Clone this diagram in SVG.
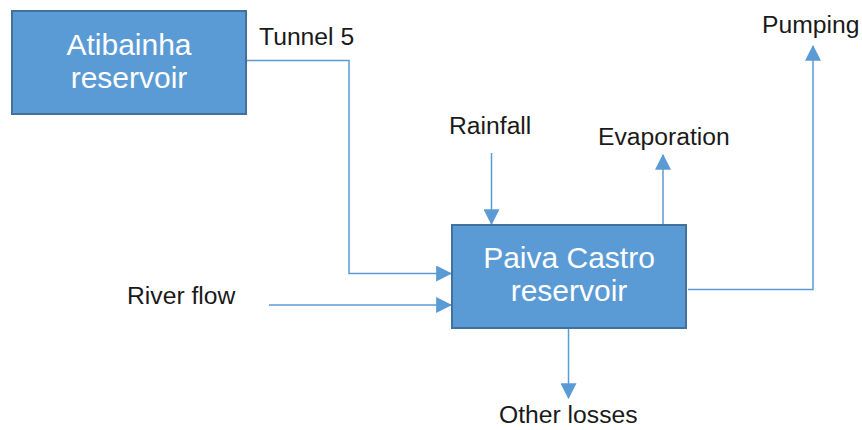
<svg xmlns="http://www.w3.org/2000/svg" width="862" height="430" viewBox="0 0 862 430">
  <style>
    .box { fill: #5B9BD5; stroke: #41719C; stroke-width: 2; }
    .boxtext { font-family: "Liberation Sans", Arial, sans-serif; font-size: 30px; fill: #ffffff; text-anchor: middle; }
    .label { font-family: "Liberation Sans", Arial, sans-serif; font-size: 24.7px; fill: #1a1a1a; }
    .flow { fill: none; stroke: #5B9BD5; stroke-width: 1.5; }
  </style>
  <defs>
    <marker id="arrow" markerUnits="userSpaceOnUse" markerWidth="16" markerHeight="16" viewBox="0 0 14 14" refX="13" refY="7" orient="auto">
      <path d="M0,0 L14,7 L0,14 Z" fill="#5B9BD5"/>
    </marker>
  </defs>
  <rect width="862" height="430" fill="#ffffff"/>

  <!-- flows -->
  <g id="connectors">
    <polyline class="flow" points="246,60.5 349,60.5 349,273.5 451,273.5" marker-end="url(#arrow)"/>
    <line class="flow" x1="269" y1="305" x2="451" y2="305" marker-end="url(#arrow)"/>
    <line class="flow" x1="491.5" y1="153" x2="491.5" y2="224" marker-end="url(#arrow)"/>
    <line class="flow" x1="663" y1="225" x2="663" y2="155" marker-end="url(#arrow)"/>
    <polyline class="flow" points="688,289.5 813,289.5 813,46" marker-end="url(#arrow)"/>
    <line class="flow" x1="568.5" y1="328" x2="568.5" y2="398" marker-end="url(#arrow)"/>
  </g>

  <!-- reservoirs -->
  <g id="atibainha">
    <rect class="box" x="12" y="11" width="234" height="103"/>
    <text class="boxtext" x="129" y="55">Atibainha</text>
    <text class="boxtext" x="129" y="88">reservoir</text>
  </g>
  <g id="paiva-castro">
    <rect class="box" x="452" y="225" width="234" height="103"/>
    <text class="boxtext" x="569" y="268">Paiva Castro</text>
    <text class="boxtext" x="569" y="301">reservoir</text>
  </g>

  <!-- flow labels -->
  <g id="tunnel5"><text class="label" x="259" y="45">Tunnel 5</text></g>
  <g id="river-flow"><text class="label" x="127" y="304">River flow</text></g>
  <g id="rainfall"><text class="label" x="449" y="134">Rainfall</text></g>
  <g id="evaporation"><text class="label" x="598" y="145">Evaporation</text></g>
  <g id="pumping"><text class="label" x="762" y="33">Pumping</text></g>
  <g id="other-losses"><text class="label" x="499" y="423">Other losses</text></g>
</svg>
